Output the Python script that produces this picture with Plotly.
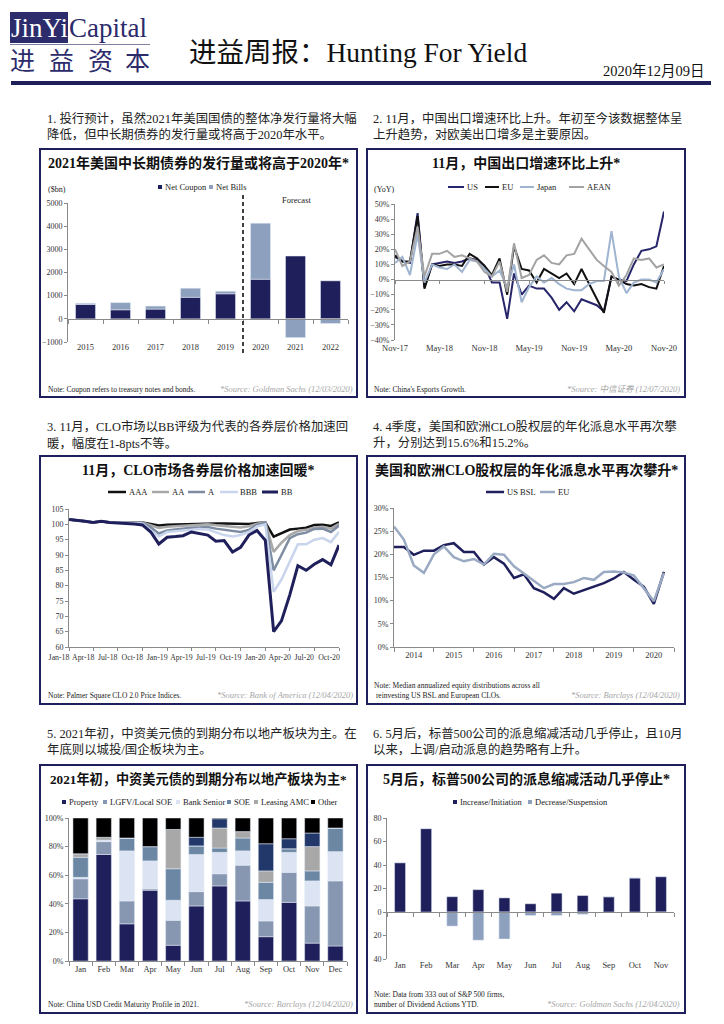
import plotly.graph_objects as go
import pandas as pd

# page body has an 8px default margin: figure sized so it fills the 724x1024 window exactly
OFF = 8
W, H = 724 - OFF, 1024 - OFF
def fx(px): return (px - OFF) / W
def fy(py): return 1 - (py - OFF) / H

NAVY = '#1F1F5C'
BILLS = '#8DA0BE'
AXC = '#8A8A8A'
TXT = '#333333'
FONT = 'Liberation Serif, Noto Sans CJK SC, serif'

# ---------------- data ----------------
# Panel 1: US treasury net issuance ($bn)
years = ['2015', '2016', '2017', '2018', '2019', '2020', '2021', '2022']
net_coupon = [620, 390, 420, 930, 1080, 1710, 2710, 1640]
net_bills = [50, 310, 130, 390, 110, 2420, -810, -200]

# Panel 2: China export growth YoY (%) Nov-17 .. Nov-20
exp_months = pd.date_range('2017-11-01', '2020-11-01', freq='MS')
exp_us = [15, 12, 11, 44, -5, 10, 11, 12, 11, 12, 14, 13, 9, -2, -2, -26, 4, -10, -4, -6,
          -6, -12, -20, -15, -21, -13, -15, -17, -21, 2, 0, -1, 10, 19, 20, 22, 45]
exp_eu = [16, 12, 12, 42, -6, 10, 9, 10, 10, 9, 17, 14, 9, 3, 14, -10, 22, 7, 6, -2,
          7, 4, 1, 4, -3, 7, -3, -13, -22, 2, 0, -3, -4, -3, -5, -6, 9]
exp_japan = [11, 15, 3, 30, -2, 10, 8, 7, 10, 5, 13, 12, 7, 2, 6, -5, 10, -15, -5, 2,
             -2, 1, -3, -6, -7, -7, -3, -1, -1, 32, 2, -9, -2, 0, 0, -2, 7]
exp_aean = [20, 9, 12, 35, 2, 17, 17, 19, 15, 16, 14, 12, 5, 2, 12, -8, 24, 1, 3, 13,
            16, 11, 10, 16, 17, 27, 20, 13, 9, 5, -4, 3, 14, 13, 14, 8, 10]

# Panel 3: CLO price indices, Jan-18 .. Oct-20
clo_months = pd.date_range('2018-01-01', '2020-10-01', freq='MS')
clo_aaa = [101.6, 101.4, 101.0, 100.6, 101.0, 100.6, 100.5, 100.5, 100.5, 100.6,
           100.2, 99.6, 99.9, 100.0, 100.1, 100.2, 100.3, 100.4, 100.3, 100.3,
           100.2, 100.0, 100.1, 100.4, 100.6, 96.0, 97.0, 98.3, 98.6, 98.9,
           99.8, 99.9, 99.5, 100.6]
clo_aa = [101.6, 101.4, 101.0, 100.6, 101.0, 100.6, 100.5, 100.5, 100.5, 100.6,
          99.8, 98.8, 99.2, 99.4, 99.6, 99.8, 99.9, 100.0, 99.7, 99.5,
          99.3, 99.0, 99.4, 100.2, 100.7, 91.0, 94.0, 96.5, 97.8, 98.2,
          99.0, 99.2, 98.6, 100.2]
clo_a = [101.6, 101.4, 101.0, 100.6, 101.0, 100.6, 100.5, 100.5, 100.4, 100.5,
         99.0, 97.0, 98.0, 98.3, 98.6, 98.9, 99.0, 99.1, 98.6, 98.2,
         97.8, 97.5, 98.2, 99.8, 100.6, 85.0, 90.0, 95.5, 96.8, 97.3,
         98.5, 98.6, 97.5, 99.6]
clo_bbb = [101.6, 101.4, 101.0, 100.6, 101.0, 100.6, 100.5, 100.4, 100.3, 100.3,
           98.0, 96.0, 97.5, 97.8, 98.0, 98.3, 98.5, 98.3, 97.5, 96.5,
           96.0, 96.5, 97.5, 99.3, 100.0, 78.0, 82.0, 88.0, 93.5, 93.5,
           95.0, 95.5, 94.2, 97.5]
clo_bb = [101.6, 101.4, 101.0, 100.6, 101.0, 100.6, 100.5, 100.4, 100.1, 99.8,
          97.5, 93.6, 95.8, 96.0, 96.3, 97.5, 97.0, 96.5, 94.5, 94.7,
          91.0, 92.5, 96.5, 98.0, 94.8, 65.0, 68.5, 77.0, 86.5, 85.0,
          87.0, 88.5, 86.8, 93.2]

# Panel 4: CLO equity annualized distributions (%), quarterly 2014..2020
eq_quarters = pd.date_range('2014-01-01', periods=28, freq='QS')
eq_us_bsl = [21.6, 21.6, 19.9, 20.8, 20.8, 22.0, 22.4, 20.5, 20.5, 17.8,
             19.4, 18.0, 14.9, 15.7, 12.7, 11.8, 10.4, 12.7, 11.5, 12.3,
             13.0, 13.8, 14.8, 16.2, 14.5, 13.0, 9.3, 16.2]
eq_eu = [26.0, 23.2, 17.6, 16.0, 20.0, 21.7, 19.4, 18.5, 19.0, 17.8,
         20.1, 19.9, 17.4, 15.8, 14.2, 12.7, 13.6, 13.6, 14.0, 14.9,
         14.5, 16.2, 16.3, 16.1, 15.4, 12.7, 9.9, 16.0]

# Panel 5: China USD credit maturity profile 2021 (% share)
mat_months = ['Jan', 'Feb', 'Mar', 'Apr', 'May', 'Jun', 'Jul', 'Aug', 'Sep', 'Oct', 'Nov', 'Dec']
mat_property = [43.5, 74.5, 26, 49.5, 11, 38.5, 52.5, 42, 17, 41, 12.5, 10.5]
mat_lgfv = [14, 9, 16, 1, 17.5, 10, 8.5, 25, 11, 21, 26, 45.5]
mat_bank = [1, 1, 35, 19.5, 14, 26, 15, 10, 15, 14, 17.5, 20.5]
mat_soe = [14, 0, 9, 10, 22, 6, 3, 9, 12, 2.5, 7, 16.5]
mat_leasing = [2.5, 2, 0, 0, 27.5, 0, 14, 4.5, 8, 0, 17, 0]
mat_unlabelled = [0, 0, 0, 0, 0, 6, 6.5, 0, 19, 7, 9.5, 0]
mat_other = [25, 13.5, 14, 20, 8, 13.5, 0.5, 9.5, 18, 14.5, 10.5, 7]

# Panel 6: S&P 500 dividend actions YTD
div_months = ['Jan', 'Feb', 'Mar', 'Apr', 'May', 'Jun', 'Jul', 'Aug', 'Sep', 'Oct', 'Nov']
div_increase = [42, 71, 13, 19, 12, 7, 16, 14, 13, 29, 30]
div_decrease = [0, 0, -12, -24, -23, -3, -3, -2, 0, 0, -0.5]

# ---------------- figure ----------------
fig = go.Figure()

# P1
fig.add_bar(x=years, y=net_coupon, name='Net Coupon', marker_color=NAVY, width=0.57,
            xaxis='x', yaxis='y', showlegend=False)
fig.add_bar(x=years, y=net_bills, name='Net Bills', marker_color=BILLS, width=0.57,
            xaxis='x', yaxis='y', showlegend=False)

# P2
for nm, vals, col in [('US', exp_us, '#28266A'), ('EU', exp_eu, '#111111'),
                      ('Japan', exp_japan, '#9FB4D0'), ('AEAN', exp_aean, '#A3A3A3')]:
    fig.add_scatter(x=exp_months, y=vals, name=nm, mode='lines', line=dict(color=col, width=2),
                    xaxis='x2', yaxis='y2', showlegend=False)

# P3
for nm, vals, col, w in [('AAA', clo_aaa, '#111111', 2.5), ('AA', clo_aa, '#A8A8A8', 2.5),
                         ('A', clo_a, '#7E8CA2', 2.5), ('BBB', clo_bbb, '#C8D5EC', 2.5),
                         ('BB', clo_bb, NAVY, 3)]:
    fig.add_scatter(x=clo_months, y=vals, name=nm, mode='lines', line=dict(color=col, width=w),
                    xaxis='x3', yaxis='y3', showlegend=False)

# P4
fig.add_scatter(x=eq_quarters, y=eq_us_bsl, name='US BSL', mode='lines',
                line=dict(color=NAVY, width=2.5), xaxis='x4', yaxis='y4', showlegend=False)
fig.add_scatter(x=eq_quarters, y=eq_eu, name='EU', mode='lines',
                line=dict(color='#9AAAC2', width=2.5), xaxis='x4', yaxis='y4', showlegend=False)

# P5
for nm, vals, col in [('Property', mat_property, NAVY), ('LGFV/Local SOE', mat_lgfv, '#8797B2'),
                      ('Bank Senior', mat_bank, '#DCE4F3'), ('SOE', mat_soe, '#6B87A3'),
                      ('Leasing AMC', mat_leasing, '#A8A8A8'), ('Unlabelled', mat_unlabelled, '#22386A'),
                      ('Other', mat_other, '#000000')]:
    fig.add_bar(x=mat_months, y=vals, name=nm, marker_color=col, width=0.66,
                xaxis='x5', yaxis='y5', showlegend=False)

# P6
fig.add_bar(x=div_months, y=div_increase, name='Increase/Initiation', marker_color=NAVY, width=0.42,
            xaxis='x6', yaxis='y6', showlegend=False)
fig.add_bar(x=div_months, y=div_decrease, name='Decrease/Suspension', marker_color=BILLS, width=0.42,
            xaxis='x6', yaxis='y6', showlegend=False)

# ---------------- axes ----------------
tickfont = dict(size=8, color=TXT, family=FONT)

def xdom(l, r): return [fx(l), fx(r)]
def ydom(t, b): return [fy(b), fy(t)]

def ybase(t, b, rng, **kw):
    d = dict(domain=ydom(t, b), range=rng, showline=True, linecolor=AXC, linewidth=1,
             ticks='outside', ticklen=3, tickcolor=AXC, tickfont=tickfont, automargin=False,
             showgrid=False, zeroline=False, fixedrange=True)
    d.update(kw)
    return d

def zero_pos(t, b, rng):
    lo, hi = fy(b), fy(t)
    return lo + (0 - rng[0]) / (rng[1] - rng[0]) * (hi - lo)

P = {
    1: dict(l=68, r=348, t=203, b=342, yr=[-1000, 5000]),
    2: dict(l=395, r=664, t=204, b=340, yr=[-40, 50]),
    3: dict(l=69, r=339, t=509, b=647, yr=[60, 105]),
    4: dict(l=394, r=674, t=508, b=647, yr=[0, 30]),
    5: dict(l=69, r=347, t=818, b=961, yr=[0, 100]),
    6: dict(l=387, r=674, t=818, b=959, yr=[-40, 80]),
}

xfont = dict(size=8.5, color=TXT, family=FONT)
common_x = dict(showgrid=False, zeroline=False, linecolor=AXC, linewidth=1, tickcolor=AXC,
                tickfont=xfont, fixedrange=True, tickangle=0, automargin=False)

p = P[1]
fig.update_layout(
    xaxis=dict(domain=xdom(p['l'], p['r']), type='category', range=[-0.5, len(years) - 0.5],
               anchor='free', position=zero_pos(p['t'], p['b'], p['yr']), showline=True,
               ticks='outside', ticklen=4, tickson='boundaries', ticklabelstandoff=20, **common_x),
    yaxis=ybase(p['t'], p['b'], p['yr'], anchor='x', dtick=1000),
)
p = P[2]
fig.update_layout(
    xaxis2=dict(domain=xdom(p['l'], p['r']), type='date', range=['2017-11-01', '2020-11-01'],
                anchor='free', position=zero_pos(p['t'], p['b'], p['yr']), showline=True,
                ticks='outside', ticklen=3, tick0='2017-11-01', dtick='M6', tickformat='%b-%y',
                ticklabelstandoff=57, **common_x),
    yaxis2=ybase(p['t'], p['b'], p['yr'], anchor='x2', dtick=10, ticksuffix='%'),
)
p = P[3]
fig.update_layout(
    xaxis3=dict(domain=xdom(p['l'], p['r']), type='date', range=['2018-01-01', '2020-10-01'],
                anchor='y3', showline=True, ticks='outside', ticklen=3, tick0='2018-01-01',
                dtick='M3', tickformat='%b-%y', ticklabelshift=-10,
                **{**common_x, 'tickfont': dict(size=7.8, color=TXT, family=FONT)}),
    yaxis3=ybase(p['t'], p['b'], p['yr'], anchor='x3', dtick=5),
)
p = P[4]
fig.update_layout(
    xaxis4=dict(domain=xdom(p['l'], p['r']), type='date', range=['2014-01-01', '2021-01-01'],
                anchor='y4', showline=True, ticks='', tickmode='array',
                tickvals=[f'{y}-07-01' for y in range(2014, 2021)],
                ticktext=[str(y) for y in range(2014, 2021)],
                minor=dict(ticks='outside', ticklen=4, tickcolor=AXC, tickmode='array',
                           tickvals=[f'{y}-01-01' for y in range(2014, 2022)], showgrid=False),
                **common_x),
    yaxis4=ybase(p['t'], p['b'], p['yr'], anchor='x4', dtick=5, ticksuffix='%'),
)
p = P[5]
fig.update_layout(
    xaxis5=dict(domain=xdom(p['l'], p['r']), type='category', range=[-0.5, len(mat_months) - 0.5],
                anchor='y5', showline=True, ticks='outside', ticklen=4, tickson='boundaries',
                **common_x),
    yaxis5=ybase(p['t'], p['b'], p['yr'], anchor='x5', dtick=20, ticksuffix='%'),
)
p = P[6]
fig.update_layout(
    xaxis6=dict(domain=xdom(p['l'], p['r']), type='category', range=[-0.5, len(div_months) - 0.5],
                anchor='free', position=zero_pos(p['t'], p['b'], p['yr']), showline=True,
                ticks='outside', ticklen=4, tickson='boundaries', ticklabelstandoff=45, **common_x),
    yaxis6=ybase(p['t'], p['b'], p['yr'], anchor='x6', tickmode='array',
                 tickvals=[-40, -20, 0, 20, 40, 60, 80],
                 ticktext=['40', '20', '0', '20', '40', '60', '80']),
)

# ---------------- decorations ----------------
shapes = []
ann = []

def text(x, y, s, size, color='#222', xanchor='left', yanchor='middle', family=FONT):
    ann.append(dict(text=s, x=fx(x), y=fy(y), xref='paper', yref='paper', showarrow=False,
                    xanchor=xanchor, yanchor=yanchor, align='left',
                    font=dict(size=size, color=color, family=family)))

# header
shapes.append(dict(type='rect', xref='paper', yref='paper', x0=fx(10), x1=fx(68), y0=fy(43), y1=fy(12),
                   fillcolor='#2C2B6B', line=dict(width=0)))
shapes.append(dict(type='line', xref='paper', yref='paper', x0=fx(10), x1=fx(150), y0=fy(44.5), y1=fy(44.5),
                   line=dict(color='#7F7FA0', width=1)))
text(39, 28, 'JinYi', 27, color='white', xanchor='center')
text(67, 28, 'Capital', 27, color='#2C2B6B')
for cx, ch in zip([23, 61, 100, 137], ['进', '益', '资', '本']):
    text(cx, 61, ch, 25, color='#2C2B6B', xanchor='center')
text(187, 52, '进益周报：Hunting For Yield', 27.5, color='#111')
text(707, 71, '2020年12月09日', 14.5, color='#111', xanchor='right')
shapes.append(dict(type='line', xref='paper', yref='paper', x0=fx(11), x1=fx(711), y0=fy(83), y1=fy(83),
                   line=dict(color=NAVY, width=4)))

# paragraphs
paras = [
    (45, 118, '1. 投行预计，虽然2021年美国国债的整体净发行量将大幅', '降低，但中长期债券的发行量或将高于2020年水平。'),
    (371, 118, '2. 11月，中国出口增速环比上升。年初至今该数据整体呈', '上升趋势，对欧美出口增多是主要原因。'),
    (45, 427, '3. 11月，CLO市场以BB评级为代表的各券层价格加速回', '暖，幅度在1-8pts不等。'),
    (371, 427, '4. 4季度，美国和欧洲CLO股权层的年化派息水平再次攀', '升，分别达到15.6%和15.2%。'),
    (45, 733, '5. 2021年初，中资美元债的到期分布以地产板块为主。在', '年底则以城投/国企板块为主。'),
    (371, 733, '6. 5月后，标普500公司的派息缩减活动几乎停止，且10月', '以来，上调/启动派息的趋势略有上升。'),
]
for x, y, l1, l2 in paras:
    text(x, y, l1, 12.4)
    text(x, y + 16, l2, 12.4)

# boxes
boxes = [(40, 149, 357, 397), (367, 149, 685, 397), (40, 456, 357, 704),
         (367, 456, 685, 704), (40, 765, 357, 1013), (367, 765, 685, 1013)]
for l, t, r, b in boxes:
    shapes.append(dict(type='rect', xref='paper', yref='paper', x0=fx(l), x1=fx(r), y0=fy(b), y1=fy(t),
                       line=dict(color=NAVY, width=2), fillcolor='rgba(0,0,0,0)'))

titles = [
    (198.5, 163, '2021年美国中长期债券的发行量或将高于2020年*', 14),
    (526, 163, '11月，中国出口增速环比上升*', 14),
    (198.5, 470, '11月，CLO市场各券层价格加速回暖*', 14),
    (526, 470, '美国和欧洲CLO股权层的年化派息水平再次攀升*', 14),
    (198.5, 779, '2021年初，中资美元债的到期分布以地产板块为主*', 13.2),
    (526, 779, '5月后，标普500公司的派息缩减活动几乎停止*', 14),
]
for x, y, s, sz in titles:
    text(x, y, '<b>' + s + '</b>', sz, color='#111', xanchor='center')

# legends
LEGF = 8.5
def leg_line(x0, x1, y, color, label, w=2.5):
    shapes.append(dict(type='line', xref='paper', yref='paper', x0=fx(x0), x1=fx(x1), y0=fy(y), y1=fy(y),
                       line=dict(color=color, width=w)))
    text(x1 + 0.5, y, label, LEGF)

def leg_sq(x0, y, color, label):
    shapes.append(dict(type='rect', xref='paper', yref='paper', x0=fx(x0), x1=fx(x0 + 4),
                       y0=fy(y + 2), y1=fy(y - 2), fillcolor=color, line=dict(width=0)))
    text(x0 + 4.5, y, label, LEGF)

leg_sq(158, 187, NAVY, 'Net Coupon')
leg_sq(209, 187, BILLS, 'Net Bills')

leg_line(448, 464, 187, '#28266A', 'US', 2)
leg_line(485, 499, 187, '#111111', 'EU', 2)
leg_line(520, 534, 187, '#9FB4D0', 'Japan', 2)
leg_line(569, 584, 187, '#A3A3A3', 'AEAN', 2)

leg_line(108, 126, 492, '#111111', 'AAA')
leg_line(152, 169, 492, '#A8A8A8', 'AA')
leg_line(188, 205, 492, '#7E8CA2', 'A')
leg_line(220, 238, 492, '#C8D5EC', 'BBB')
leg_line(262, 278, 492, NAVY, 'BB', 3)

leg_line(486, 504, 492, NAVY, 'US BSL')
leg_line(540, 555, 492, '#9AAAC2', 'EU')

leg_sq(62, 802, NAVY, 'Property')
leg_sq(103, 802, '#8797B2', 'LGFV/Local SOE')
leg_sq(176, 802, '#DCE4F3', 'Bank Senior')
leg_sq(227, 802, '#6B87A3', 'SOE')
leg_sq(254, 802, '#A8A8A8', 'Leasing AMC')
leg_sq(311, 802, '#000000', 'Other')

leg_sq(453, 802, NAVY, 'Increase/Initiation')
leg_sq(528, 802, BILLS, 'Decrease/Suspension')

# axis captions
text(57, 189, '($bn)', 8, xanchor='center')
text(384, 189, '(YoY)', 8, xanchor='center')
text(296, 200, 'Forecast', 8.5, xanchor='center')
shapes.append(dict(type='line', xref='x', yref='paper', x0=4.5, x1=4.5, y0=fy(353), y1=fy(195),
                   line=dict(color='#404040', width=2, dash='4px,3px')))

# notes and sources
notes = [
    (46, 389, 'Note: Coupon refers to treasury notes and bonds.'),
    (372, 389, "Note: China's Esports Growth."),
    (46, 695, 'Note: Palmer Square CLO 2.0 Price Indices.'),
    (372, 690, 'Note: Median annualized equity distributions across all<br> reinvesting US BSL and European CLOs.'),
    (46, 1004, 'Note: China USD Credit Maturity Profile in 2021.'),
    (372, 999, 'Note: Data from 333 out of S&P 500 firms,<br>number of Dividend Actions YTD.'),
]
for x, y, s in notes:
    text(x, y, s, 7.5)
sources = [
    (355, 389, '*Source: Goldman Sachs (12/03/2020)'),
    (682, 389, '*Source: 中信证券 (12/07/2020)'),
    (355, 695, '*Source: Bank of America (12/04/2020)'),
    (682, 695, '*Source: Barclays (12/04/2020)'),
    (355, 1004, '*Source: Barclays (12/04/2020)'),
    (682, 1004, '*Source: Goldman Sachs (12/04/2020)'),
]
for x, y, s in sources:
    text(x, y, '<i>' + s + '</i>', 8.5, color='#A6A6A6', xanchor='right')

fig.update_layout(
    width=W, height=H, margin=dict(l=0, r=0, t=0, b=0, autoexpand=False),
    paper_bgcolor='white', plot_bgcolor='white',
    barmode='relative', showlegend=False,
    font=dict(family=FONT, size=9, color=TXT),
    shapes=shapes, annotations=ann,
)

fig.write_html('out.html')
